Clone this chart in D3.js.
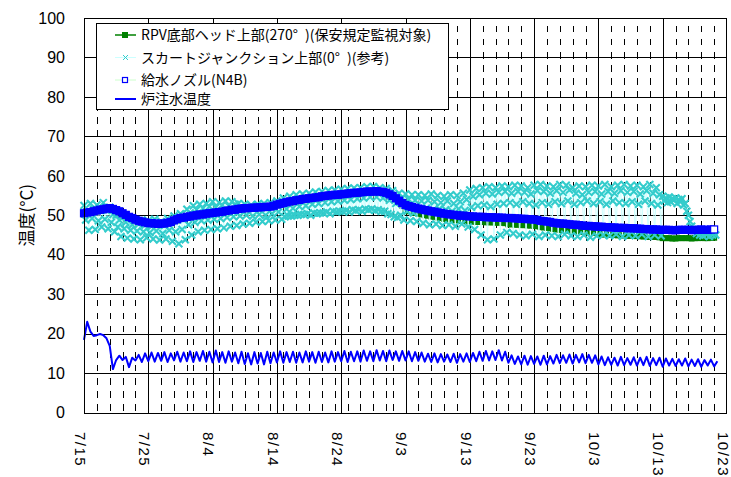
<!DOCTYPE html>
<html>
<head>
<meta charset="utf-8">
<script src="https://cdn.jsdelivr.net/npm/d3@7"></script>
<style>
  body { margin: 0; background: #fff; }
  svg { display: block; }
</style>
</head>
<body>
<svg id="chart" width="731" height="477"></svg>
<script>
// ---- data -------------------------------------------------------------
const startDate = new Date(2011, 6, 15);
const endDate = new Date(2011, 9, 23);

const xTickLabels = ["7/15", "7/25", "8/4", "8/14", "8/24", "9/3", "9/13", "9/23", "10/3", "10/13", "10/23"];
const yTickValues = [0, 10, 20, 30, 40, 50, 60, 70, 80, 90, 100];

const seriesNames = [
  "RPV底部ヘッド上部(270°\u2002)(保安規定監視対象)",
  "スカートジャンクション上部(0°\u2002)(参考)",
  "給水ノズル(N4B)",
  "炉注水温度"
];

// RPV bottom head, readings every 12 h from 7/15 0:00 (°C)
const rpvHead = [
  50.2,50.4, 50.5,50.7, 50.9,51.1, 51.2,51.4, 51.5,51.3, 51.0,50.7, 50.2,49.8, 49.3,49.0, 48.6,48.3, 48.1,47.9,
  47.7,47.7, 47.6,47.5, 47.6,47.6, 47.8,48.0, 48.4,48.7, 49.0,49.1, 49.3,49.4, 49.6,49.7, 49.9,49.9, 50.1,50.2,
  50.3,50.4, 50.5,50.6, 50.8,50.9, 51.1,51.1, 51.3,51.4, 51.5,51.5, 51.6,51.6, 51.7,51.7, 51.8,51.8, 51.9,52.1,
  52.4,52.6, 52.8,53.0, 53.2,53.3, 53.5,53.6, 53.8,53.9, 54.0,54.1, 54.2,54.3, 54.5,54.6, 54.7,54.8, 54.9,54.9,
  55.0,55.1, 55.2,55.3, 55.4,55.4, 55.5,55.6, 55.7,55.7, 55.7,55.8, 55.7,55.6, 55.4,55.0, 54.6,54.0, 53.1,52.4,
  51.4,51.0, 50.8,50.6, 50.4,50.2, 50.0,49.9, 49.7,49.6, 49.4,49.3, 49.1,49.0, 48.9,48.8, 48.7,48.6, 48.6,48.5,
  48.4,48.4, 48.3,48.3, 48.3,48.2, 48.2,48.2, 48.1,48.1, 48.1,48.0, 47.7,47.7, 47.6,47.6, 47.5,47.5, 47.4,47.4,
  47.3,47.2, 47.0,46.9, 46.8,46.7, 46.5,46.4, 46.3,46.3, 46.2,46.1, 46.0,46.0, 45.9,45.8, 45.7,45.7, 45.6,45.6,
  45.2,45.2, 45.1,45.1, 45.0,45.0, 44.9,44.9, 44.9,44.8, 44.8,44.8, 44.7,44.7, 44.6,44.6, 44.5,44.5, 44.5,44.4,
  44.2,44.2, 44.2,44.1, 44.1,44.2, 44.2,44.2, 44.2,44.1, 44.2,44.2, 44.3,44.2, 44.2,44.3, 44.3
];

// Skirt junction, readings every 6 h from 7/15 0:00 (°C)
const skirtJunction = [
  52.5,48.8,50.8,46.2, 53.0,49.2,51.5,46.4, 52.6,48.6,52.0,47.0, 53.2,49.0,51.2,46.6, 52.0,48.2,50.2,45.8,
  50.0,47.0,48.8,44.6, 49.4,46.6,48.2,44.2, 49.0,46.2,47.6,44.0, 48.6,46.0,47.8,43.8, 48.8,45.8,47.5,44.3,
  48.6,45.6,47.2,44.0, 49.0,46.0,48.0,43.7, 48.4,45.4,47.4,44.0, 49.2,46.2,48.4,43.4, 49.8,45.8,48.8,42.8,
  50.4,46.4,49.6,43.8, 51.5,47.6,50.6,45.0, 52.4,48.2,51.4,45.8, 52.8,48.6,51.8,46.2, 53.0,48.8,52.2,46.4,
  53.4,49.0,52.0,46.6, 53.2,49.2,52.6,46.8, 53.6,49.4,52.4,47.2, 53.4,49.6,52.8,47.4, 53.0,49.8,52.2,47.8,
  52.8,50.0,52.0,48.0, 52.6,49.8,51.8,48.2, 52.8,50.2,52.2,48.4, 53.0,50.0,52.4,48.6, 53.2,50.4,52.6,48.8,
  53.6,50.8,53.0,49.0, 54.4,49.6,51.6,49.8, 54.8,49.8,51.8,50.0, 55.2,50.0,52.2,50.2, 55.4,50.2,52.4,50.4,
  55.6,50.0,52.8,50.6, 55.9,50.4,53.0,50.6, 56.0,50.6,53.2,50.8, 56.3,50.4,53.4,51.0, 56.4,50.8,53.6,51.0,
  56.6,51.0,53.8,51.2, 56.8,50.8,54.0,51.4, 56.9,51.2,54.2,51.4, 57.0,51.0,54.4,51.6, 57.2,51.4,54.6,51.6,
  57.3,51.2,54.6,51.4, 57.0,51.0,54.4,51.0, 56.8,50.4,53.8,50.2, 56.2,49.6,53.0,49.4, 55.6,50.0,54.4,48.8,
  55.4,51.0,54.0,48.6, 55.2,50.6,53.8,48.4, 55.2,51.4,53.6,48.0, 55.0,51.8,53.8,47.6, 55.4,51.2,53.4,47.8,
  55.0,51.6,53.2,47.4, 54.8,51.4,53.6,47.6, 55.2,51.0,53.0,47.2, 55.0,51.6,53.4,47.8, 55.6,51.2,54.0,47.0,
  56.4,52.0,54.8,46.4, 56.8,52.4,55.2,45.0, 57.0,52.6,55.6,43.8, 57.2,52.2,55.4,44.0, 57.0,52.8,55.8,45.0,
  57.4,53.0,56.0,45.6, 57.2,53.2,55.6,45.4, 57.6,52.8,56.0,45.0, 57.4,53.4,55.8,44.8, 57.0,53.0,55.4,45.2,
  57.6,52.6,56.2,44.6, 57.8,53.2,56.0,45.0, 57.4,52.8,55.6,44.8, 57.2,53.4,56.2,44.6, 57.8,53.0,55.8,45.2,
  57.6,53.6,56.4,44.8, 57.0,52.8,55.6,44.6, 57.4,53.2,55.2,45.0, 57.2,53.6,55.8,44.4, 57.6,53.0,56.0,44.8,
  57.4,53.4,55.4,45.0, 57.8,52.8,56.0,44.8, 57.2,53.6,55.6,45.2, 57.6,53.2,56.2,44.6, 57.8,53.0,55.8,45.0,
  57.4,53.4,56.0,44.8, 57.6,52.8,55.4,45.2, 57.2,53.6,56.2,44.6, 57.8,53.0,55.6,45.0, 57.0,52.6,55.2,44.8,
  54.8,53.6,54.4,53.2, 54.6,53.4,54.2,53.8, 54.4,53.0,54.0,53.4, 54.2,52.6,53.0,51.0, 50.0,48.4,47.2,46.4,
  46.2,45.4,45.8,45.0, 45.6,44.8,46.0,45.2, 45.4,44.6,45.8,45.0, 45.6,45.0
];

// Feedwater nozzle N4B, readings every 12 h from 7/15 0:00 (°C)
const feedwaterNozzle = [
  50.5,50.7, 50.8,51.0, 51.2,51.4, 51.5,51.7, 51.8,51.6, 51.3,51.0, 50.5,50.1, 49.6,49.3, 48.9,48.6, 48.4,48.2,
  48.0,48.0, 47.9,47.8, 47.9,47.9, 48.1,48.3, 48.7,49.0, 49.3,49.4, 49.6,49.7, 49.9,50.0, 50.2,50.2, 50.4,50.5,
  50.6,50.7, 50.8,50.9, 51.1,51.2, 51.4,51.4, 51.6,51.7, 51.8,51.8, 51.9,51.9, 52.0,52.0, 52.1,52.1, 52.2,52.4,
  52.7,52.9, 53.1,53.3, 53.5,53.6, 53.8,53.9, 54.1,54.2, 54.3,54.4, 54.5,54.6, 54.8,54.9, 55.0,55.1, 55.2,55.2,
  55.3,55.4, 55.5,55.6, 55.7,55.7, 55.8,55.9, 56.0,56.0, 56.0,56.1, 56.0,55.9, 55.7,55.3, 54.9,54.3, 53.7,53.1,
  52.6,52.3, 52.1,51.9, 51.7,51.5, 51.3,51.2, 51.0,50.9, 50.7,50.6, 50.4,50.3, 50.2,50.1, 50.0,49.9, 49.9,49.8,
  49.7,49.7, 49.6,49.6, 49.6,49.5, 49.5,49.5, 49.4,49.4, 49.4,49.3, 49.3,49.3, 49.2,49.2, 49.1,49.1, 49.0,49.0,
  48.9,48.8, 48.6,48.5, 48.4,48.3, 48.1,48.0, 47.9,47.9, 47.8,47.7, 47.6,47.6, 47.5,47.4, 47.3,47.3, 47.2,47.2,
  47.1,47.1, 47.0,47.0, 46.9,46.9, 46.8,46.8, 46.8,46.7, 46.7,46.7, 46.6,46.6, 46.5,46.5, 46.4,46.4, 46.4,46.3,
  46.3,46.3, 46.3,46.2, 46.2,46.3, 46.3,46.3, 46.3,46.2, 46.3,46.3, 46.4,46.3, 46.3,46.4, 46.4
];

// Injection water temperature, readings every 12 h from 7/15 0:00 (°C)
const injectionTemp = [
  18.4,23.0, 20.5,19.4, 19.6,19.9, 19.6,18.8, 16.9,11.0, 13.3,14.4, 13.3,14.1, 11.5,13.9, 13.2,14.6, 12.8,15.0,
  13.0,15.2, 12.9,15.1, 13.1,15.3, 12.8,15.0, 13.2,15.4, 12.9,15.2, 13.0,15.5, 12.8,15.3, 13.1,15.6, 12.9,15.4,
  12.7,15.7, 12.8,15.3, 12.6,15.5, 12.9,15.2, 12.5,15.4, 12.3,15.0, 12.2,15.3, 12.4,15.1, 12.2,15.4, 12.5,15.2,
  12.7,15.5, 12.6,15.3, 12.8,15.4, 12.6,15.2, 12.7,15.5, 12.9,15.3, 12.6,15.4, 12.8,15.2, 12.7,15.5, 12.9,15.3,
  13.0,15.6, 12.8,15.4, 13.0,15.5, 12.9,15.7, 13.1,15.5, 13.0,15.8, 13.2,15.6, 13.0,15.7, 13.3,15.5, 13.1,15.6,
  13.2,15.5, 13.0,15.3, 13.1,15.2, 12.9,14.9, 12.8,15.0, 12.7,14.8, 12.9,14.7, 12.8,14.9, 12.6,14.8, 12.9,15.0,
  12.8,15.1, 13.0,15.4, 13.1,15.6, 13.2,15.5, 13.3,15.8, 13.2,15.4, 12.6,14.5, 12.3,14.2, 12.2,14.4, 12.1,14.3,
  12.3,14.2, 12.1,14.4, 12.2,14.3, 12.4,14.6, 12.5,14.5, 12.6,14.7, 12.4,14.6, 12.7,14.8, 12.5,14.6, 12.6,14.5,
  12.2,14.2, 12.0,14.0, 12.1,13.9, 11.9,14.1, 12.0,13.8, 12.1,14.0, 11.9,13.9, 12.0,14.1, 11.8,13.8, 12.0,13.9,
  11.6,13.7, 11.9,13.6, 11.8,13.5, 11.9,13.7, 11.7,13.4, 11.8,13.5, 11.6,13.3, 11.9,13.4, 11.7,13.0
];

// ---- layout -----------------------------------------------------------
const svg = d3.select("#chart");
const plot = { left: 84, right: 727, top: 18, bottom: 412.5 };
const axisFont = "'Liberation Sans', Arial, sans-serif";
const jpFont = "'Noto Sans CJK JP', 'Noto Sans', sans-serif";

const x = d3.scaleTime().domain([startDate, endDate]).range([plot.left, plot.right]);
const y = d3.scaleLinear().domain([0, 100]).range([plot.bottom, plot.top]);

const parseTick = s => { const [m, d] = s.split("/").map(Number); return new Date(2011, m - 1, d); };
const majorDates = xTickLabels.map(parseTick);
const minorDates = d3.timeDay.every(2).range(startDate, endDate)
  .filter(d => !majorDates.some(m => +m === +d));

const sampled = (values, hours) => values.map((v, i) => ({ t: d3.timeHour.offset(startDate, i * hours), v }));

// ---- grid -------------------------------------------------------------
const grid = svg.append("g").attr("shape-rendering", "crispEdges");

grid.selectAll("line.minor").data(minorDates).join("line")
  .attr("class", "minor")
  .attr("x1", d => Math.round(x(d)) + 0.5).attr("x2", d => Math.round(x(d)) + 0.5)
  .attr("y1", plot.top).attr("y2", plot.bottom)
  .attr("stroke", "#000").attr("stroke-width", 1)
  .attr("stroke-dasharray", "6.6 6.44").attr("stroke-dashoffset", 5.2);

grid.selectAll("line.hgrid").data(yTickValues.slice(1, -1)).join("line")
  .attr("class", "hgrid")
  .attr("x1", plot.left).attr("x2", plot.right)
  .attr("y1", d => Math.round(y(d)) + 0.5).attr("y2", d => Math.round(y(d)) + 0.5)
  .attr("stroke", "#000").attr("stroke-width", 1);

grid.selectAll("line.vgrid").data(majorDates.slice(1, -1)).join("line")
  .attr("class", "vgrid")
  .attr("x1", d => Math.round(x(d)) + 0.5).attr("x2", d => Math.round(x(d)) + 0.5)
  .attr("y1", plot.top).attr("y2", plot.bottom)
  .attr("stroke", "#000").attr("stroke-width", 1);

// ---- series -----------------------------------------------------------
const line = d3.line().x(d => x(d.t)).y(d => y(d.v));
const dataLayer = svg.append("g");
const crossPath = "M-3.5,-3.5L3.5,3.5M-3.5,3.5L3.5,-3.5";

const rpvData = sampled(rpvHead, 12);
dataLayer.append("path").datum(rpvData).attr("d", line)
  .attr("fill", "none").attr("stroke", "#008000").attr("stroke-width", 1.5);
dataLayer.append("g").selectAll("rect").data(rpvData).join("rect")
  .attr("x", d => x(d.t) - 3).attr("y", d => y(d.v) - 3)
  .attr("width", 6).attr("height", 6).attr("fill", "#008000");

const skirtData = sampled(skirtJunction, 6);
dataLayer.append("path").datum(skirtData).attr("d", line)
  .attr("fill", "none").attr("stroke", "#ccffff").attr("stroke-width", 1);
dataLayer.append("g").selectAll("path").data(skirtData).join("path")
  .attr("transform", d => `translate(${x(d.t)},${y(d.v)})`)
  .attr("d", crossPath)
  .attr("stroke", "#33cccc").attr("stroke-width", 2.1).attr("fill", "none");

const feedData = sampled(feedwaterNozzle, 12);
dataLayer.append("path").datum(feedData).attr("d", line)
  .attr("fill", "none").attr("stroke", "#ccffcc").attr("stroke-width", 1);
dataLayer.append("g").selectAll("rect").data(feedData).join("rect")
  .attr("x", d => x(d.t) - 3.5).attr("y", d => y(d.v) - 3.5)
  .attr("width", 7).attr("height", 7)
  .attr("fill", (d, i) => i === feedData.length - 1 ? "#fff" : "#0000ff")
  .attr("stroke", "#0000ff").attr("stroke-width", 1.2);

const injData = sampled(injectionTemp, 12);
dataLayer.append("path").datum(injData).attr("d", line)
  .attr("fill", "none").attr("stroke", "#0000ff").attr("stroke-width", 2)
  .attr("stroke-linejoin", "round");

// ---- frame and axes ---------------------------------------------------
svg.append("rect")
  .attr("x", plot.left + 0.5).attr("y", plot.top + 0.5)
  .attr("width", plot.right - plot.left - 1).attr("height", plot.bottom - plot.top)
  .attr("fill", "none").attr("stroke", "#000").attr("stroke-width", 1)
  .attr("shape-rendering", "crispEdges");

svg.append("g").selectAll("text").data(yTickValues).join("text")
  .attr("x", 65).attr("y", d => y(d))
  .attr("dy", "0.36em")
  .attr("text-anchor", "end")
  .attr("font-family", axisFont).attr("font-size", 16).attr("fill", "#000")
  .text(d => d);

svg.append("text")
  .attr("transform", `translate(27,${(plot.top + plot.bottom) / 2}) rotate(-90)`)
  .attr("text-anchor", "middle").attr("dy", "0.35em")
  .attr("font-family", jpFont).attr("font-size", 17).attr("fill", "#000")
  .text("温度(°C)");

svg.append("g").selectAll("text").data(xTickLabels).join("text")
  .attr("transform", (d, i) => `translate(${x(majorDates[i]) - 4},432) rotate(90)`)
  .attr("dy", "0.35em")
  .attr("text-anchor", "start")
  .attr("font-family", axisFont).attr("font-size", 15).attr("letter-spacing", 1.5).attr("fill", "#000")
  .text(d => d);

// ---- legend -----------------------------------------------------------
const legend = svg.append("g");
legend.append("rect")
  .attr("x", 96.5).attr("y", 23.5).attr("width", 352).attr("height", 86)
  .attr("fill", "#fff").attr("stroke", "#000").attr("stroke-width", 1)
  .attr("shape-rendering", "crispEdges");

const legendRows = [35, 57.5, 80, 99];
const legendStyles = [
  { line: "#008000", lw: 1.5, marker: "rpv" },
  { line: "#ccffff", lw: 1, marker: "skirt" },
  { line: "#ccffcc", lw: 1, marker: "feed" },
  { line: "#0000ff", lw: 2, marker: null }
];
seriesNames.forEach((name, i) => {
  const cy = legendRows[i], st = legendStyles[i];
  const g = legend.append("g");
  g.append("line").attr("x1", 115).attr("x2", 136).attr("y1", cy).attr("y2", cy)
    .attr("stroke", st.line).attr("stroke-width", st.lw);
  if (st.marker === "rpv") {
    g.append("rect").attr("x", 122).attr("y", cy - 3).attr("width", 6).attr("height", 6).attr("fill", "#008000");
  } else if (st.marker === "skirt") {
    g.append("path").attr("transform", `translate(125.5,${cy})`)
      .attr("d", "M-2.5,-2.5L2.5,2.5M-2.5,2.5L2.5,-2.5")
      .attr("stroke", "#33cccc").attr("stroke-width", 1);
  } else if (st.marker === "feed") {
    g.append("rect").attr("x", 122.5).attr("y", cy - 2.5).attr("width", 5).attr("height", 5)
      .attr("fill", "#fff").attr("stroke", "#0000ff").attr("stroke-width", 1.2);
  }
  g.append("text").attr("x", 141).attr("y", cy).attr("dy", "0.36em")
    .attr("font-family", jpFont).attr("font-size", 14).attr("fill", "#000")
    .text(name);
});
</script>
</body>
</html>
